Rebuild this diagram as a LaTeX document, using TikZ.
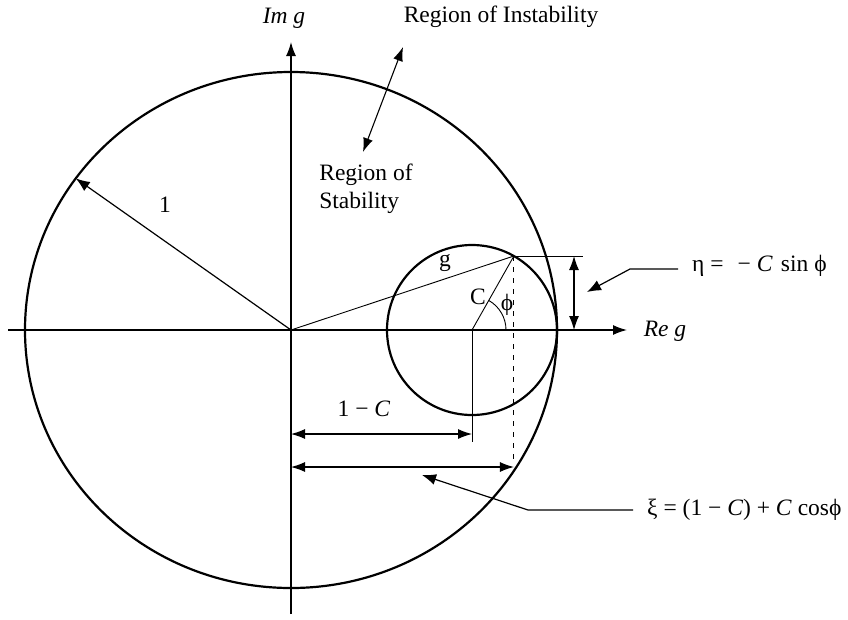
\documentclass[tikz,border=0pt]{standalone}
\usepackage{fontspec}
\setmainfont{Liberation Serif}
\usetikzlibrary{arrows.meta}
\begin{document}
\begin{tikzpicture}[x=1pt,y=-1pt,
  lbl/.style={font=\fontsize{23.5}{28}\selectfont, inner sep=0pt},
  ilbl/.style={font=\fontsize{23.5}{28}\selectfont\itshape, inner sep=0pt},
  thinline/.style={line width=0.9pt},
  axisline/.style={line width=1.4pt, -{Latex[length=14pt,width=10pt]}},
  dimline/.style={line width=1.1pt, {Latex[length=14pt,width=10pt]}-{Latex[length=14pt,width=10pt]}},
  ptr/.style={line width=1.2pt, -{Latex[length=14pt,width=11pt]}},
  bigc/.style={line width=2.2pt}]
\useasboundingbox (0,0) rectangle (848,619);
% key points
\coordinate (O) at (291,330);
\coordinate (Cc) at (472,330);
\coordinate (P) at (513.9,256.0);
\coordinate (axL) at (8,330);
\coordinate (axR) at (627,330);
\coordinate (axB) at (291,614);
\coordinate (axT) at (291,42);
\coordinate (R1) at (75.8,178.4);
% circles
\draw[bigc] (O) ellipse [x radius=266, y radius=258];
\draw[bigc] (Cc) circle [radius=85];
% axes
\draw[axisline] (axL) -- (axR);
\draw[axisline] (axB) -- (axT);
% labels of axes
\node[ilbl] (img) at (284,18) {Im g};
\node[ilbl] (reg) at (665,331) {Re g};
% radius 1
\draw[ptr] (O) -- (R1);
\node[lbl] (one) at (165,205) {1};
% regions
\node[lbl] (inst) at (501,17) {Region of Instability};
\node[lbl, align=left] (stab) at (366,189) {Region of\\Stability};
\coordinate (s1) at (363,152);
\coordinate (s2) at (403,47);
\draw[dimline] (s1) -- (s2);
% g, C, phi
\draw[thinline] (O) -- (P);
\draw[thinline] (Cc) -- (P);
\draw[thinline] (Cc) ++(34,0) arc[start angle=0, end angle=-60.5, radius=34];
\node[lbl] (glbl) at (445,263) {g};
\node[lbl] (clbl) at (478,297) {C};
\node[lbl] (phil) at (507,305) {ϕ};
% eta dimension
\coordinate (Pe) at (583,256.0);
\coordinate (etaT) at (574,256.0);
\coordinate (etaB) at (574,330);
\draw[thinline] (P) -- (Pe);
\draw[dimline] (etaT) -- (etaB);
\node[lbl, anchor=west] (eta) at (692,266) {η =\hspace{0.6em}− \textit{C}\hspace{0.1em} sin ϕ};
\coordinate (e1) at (630,269);
\coordinate (e2) at (587,292);
\draw[ptr] (eta.west) ++(-14,3) -- (e1) -- (e2);
% 1-C dimension
\coordinate (Cd) at (472,442);
\coordinate (omcL) at (291,434);
\coordinate (omcR) at (472,434);
\draw[thinline] (Cc) -- (Cd);
\draw[dimline] (omcL) -- (omcR);
\node[lbl] (omc) at (364,409) {1 − \textit{C}};
% xi dimension
\coordinate (Pd) at (513.9,462);
\coordinate (xiL) at (291,467);
\coordinate (xiR) at (513.9,467);
\draw[thinline, dash pattern=on 5pt off 6pt] (P) -- (Pd);
\draw[dimline] (xiL) -- (xiR);
\node[lbl, anchor=west] (xi) at (647,510) {ξ = (1 − \textit{C}) + \textit{C} cosϕ};
\coordinate (x1) at (528,510);
\coordinate (x2) at (422,475);
\draw[ptr] (xi.west) ++(-14,0) -- (x1) -- (x2);
\end{tikzpicture}
\end{document}
